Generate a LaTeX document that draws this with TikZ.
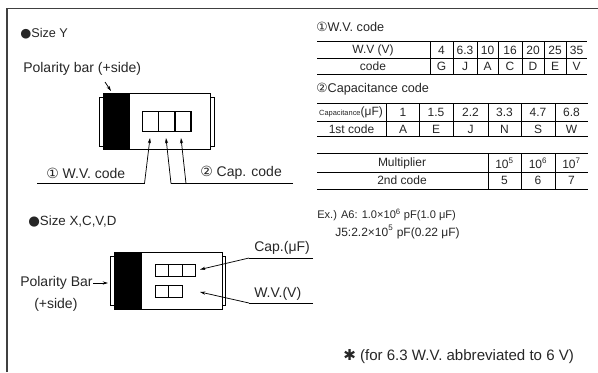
\documentclass[tikz,border=0pt]{standalone}
\usepackage{fontspec}
\setmainfont{Liberation Sans}
\newfontfamily\symfont{DejaVu Sans}
\usetikzlibrary{arrows.meta}
\usetikzlibrary{positioning}
\tikzset{
    lbl/.style={inner sep=0pt, anchor=west, text=black!85, font=\fontsize{10.5}{12}\selectfont},
    head/.style={inner sep=0pt, anchor=west, text=black!85, font=\fontsize{9.5}{11}\selectfont},
    cell/.style={inner sep=0pt, text=black!85, font=\fontsize{9}{11}\selectfont},
    rule/.style={line width=0.65pt},
    grid/.style={line width=0.55pt},
    body/.style={rectangle, draw, line width=0.7pt, inner sep=0pt, fill=white},
    tab/.style={rectangle, draw, line width=0.6pt, inner sep=0pt, minimum width=2.6pt, minimum height=36.8pt},
    digit/.style={rectangle, draw, line width=0.6pt, inner sep=0pt, minimum height=15.5pt},
    leader/.style={line width=0.55pt},
    lead/.style={line width=0.55pt, -{Stealth[length=4pt,width=2.4pt]}}
}
\newcommand{\circone}{{\symfont\char"2460}}
\newcommand{\circtwo}{{\symfont\char"2461}}
\newcommand{\dotmark}{{\symfont\char"25CF}}
\begin{document}
\begin{tikzpicture}[x=0.75pt, y=-0.75pt]
\useasboundingbox (0,0) rectangle (598,372);
% frame
\coordinate (fa) at (7,372);
\coordinate (fb) at (7,8.5);
\coordinate (fc) at (598,8.5);
\draw[line width=0.8pt, black!75] (fa) -- (fb) -- (fc);

% size Y
\node[head] (ytitle) at (20,34) {\dotmark Size Y};
\node[lbl] (ypol) at (23,69) {Polarity bar (+side)};
\node[tab] (ytabl) at (101.25,121.5) {};
\node[tab] (ytabr) at (212.25,121.5) {};
\node[body, minimum width=80.6pt, minimum height=42.4pt] (ybody) at (156.75,121.25) {};
\node[rectangle, fill=black, inner sep=0pt, minimum width=20.3pt, minimum height=42.4pt] (ybar) at (116.5,121.25) {};
\node[digit, minimum width=12pt] (ya) at (150.75,121.5) {};
\node[digit, minimum width=12pt] (yb) at (166.75,121.5) {};
\node[digit, minimum width=12pt, line width=0.9pt] (yc) at (183,121.5) {};
\coordinate (ypa) at (105,82);
\coordinate (ypb) at (111,91);
\draw[lead] (ypa) -- (ypb);
\node[lbl] (ywv) at (46,173) {\circone\ W.V. code};
\node[lbl] (ycap) at (200,173) {\circtwo\ Cap. code};
\coordinate (yl1) at (37,183.5);
\coordinate (yl2) at (144.5,183.5);
\coordinate (yl3) at (150,138);
\coordinate (yr1) at (293,183.5);
\coordinate (yr2) at (186,183.5);
\coordinate (yr3) at (181,138);
\coordinate (yr4) at (171,183.5);
\coordinate (yr5) at (166,138);
\draw[leader] (yl1) -- (yl2);
\draw[lead] (yl2) -- (yl3);
\draw[leader] (yr1) -- (yr4);
\draw[lead] (yr2) -- (yr3);
\draw[lead] (yr4) -- (yr5);

% size X,C,V,D
\node[head, font=\fontsize{10}{12}\selectfont] (xtitle) at (28,222) {\dotmark Size X,C,V,D};
\node[lbl] (xpol) at (20,283) {Polarity Bar};
\node[lbl] (xside) at (34,305) {(+side)};
\node[tab] (xtabl) at (112.25,280.5) {};
\node[tab] (xtabr) at (223.75,280.5) {};
\node[body, minimum width=81pt, minimum height=42.8pt] (xbody) at (168,280.5) {};
\node[rectangle, fill=black, inner sep=0pt, minimum width=21pt, minimum height=42.8pt] (xbar) at (128,280.5) {};
\node[digit, minimum width=10pt, minimum height=9pt] (xa) at (161.75,270) {};
\node[digit, minimum width=10pt, minimum height=9pt] (xb) at (175.25,270) {};
\node[digit, minimum width=10pt, minimum height=9pt] (xc) at (188.75,270) {};
\node[digit, minimum width=10pt, minimum height=9pt] (xd) at (161.75,291.25) {};
\node[digit, minimum width=10pt, minimum height=9pt] (xe) at (175.25,291.25) {};
\coordinate (xpa) at (93,283);
\coordinate (xpb) at (108,283);
\draw[lead] (xpa) -- (xpb);
\node[lbl] (xcap) at (254,248) {Cap.(μF)};
\node[lbl] (xwv) at (254,294) {W.V.(V)};
\coordinate (xc1) at (313,258);
\coordinate (xc2) at (249,258);
\coordinate (xc3) at (200,269.5);
\coordinate (xw1) at (313,303);
\coordinate (xw2) at (249,303);
\coordinate (xw3) at (200,292);
\draw[leader] (xc1) -- (xc2);
\draw[lead] (xc2) -- (xc3);
\draw[leader] (xw1) -- (xw2);
\draw[lead] (xw2) -- (xw3);

% W.V. code table
\node[head] (wvtitle) at (316,27) {\circone W.V. code};
\draw[rule] (317,41) -- (587,41);
\draw[rule] (317,58.5) -- (587,58.5);
\draw[rule] (317,74) -- (587,74);
\draw[grid] (430,41) -- (430,74);
\draw[grid] (453,41) -- (453,74);
\draw[grid] (477,41) -- (477,74);
\draw[grid] (498,41) -- (498,74);
\draw[grid] (522,41) -- (522,74);
\draw[grid] (544,41) -- (544,74);
\draw[grid] (566,41) -- (566,74);
\node[cell] (wv0) at (373,50) {W.V (V)};
\node[cell] (wv1) at (441.5,50) {4};
\node[cell] (wv2) at (465,50) {6.3};
\node[cell] (wv3) at (487.5,50) {10};
\node[cell] (wv4) at (510,50) {16};
\node[cell] (wv5) at (533,50) {20};
\node[cell] (wv6) at (555,50) {25};
\node[cell] (wv7) at (576.5,50) {35};
\node[cell] (cd0) at (373,66) {code};
\node[cell] (cd1) at (441.5,66) {G};
\node[cell] (cd2) at (465,66) {J};
\node[cell] (cd3) at (487.5,66) {A};
\node[cell] (cd4) at (510,66) {C};
\node[cell] (cd5) at (533,66) {D};
\node[cell] (cd6) at (555,66) {E};
\node[cell] (cd7) at (576.5,66) {V};

% capacitance code table
\node[head] (captitle) at (316,89) {\circtwo Capacitance code};
\draw[rule] (317,103) -- (588,103);
\draw[rule] (317,121) -- (588,121);
\draw[rule] (317,136) -- (588,136);
\draw[grid] (386,103) -- (386,136);
\draw[grid] (419.5,103) -- (419.5,136);
\draw[grid] (453,103) -- (453,136);
\draw[grid] (488,103) -- (488,136);
\draw[grid] (521,103) -- (521,136);
\draw[grid] (555,103) -- (555,136);
\node[cell] (cp0) at (351,112) {{\fontsize{5.6}{6}\selectfont Capacitance}(μF)};
\node[cell] (cp1) at (403,112) {1};
\node[cell] (cp2) at (436,112) {1.5};
\node[cell] (cp3) at (470.5,112) {2.2};
\node[cell] (cp4) at (504.5,112) {3.3};
\node[cell] (cp5) at (538,112) {4.7};
\node[cell] (cp6) at (571.5,112) {6.8};
\node[cell] (st0) at (351.5,129) {1st code};
\node[cell] (st1) at (403,129) {A};
\node[cell] (st2) at (436,129) {E};
\node[cell] (st3) at (470.5,129) {J};
\node[cell] (st4) at (504.5,129) {N};
\node[cell] (st5) at (538,129) {S};
\node[cell] (st6) at (571.5,129) {W};

% multiplier table
\draw[rule] (317,153.5) -- (588,153.5);
\draw[rule] (317,172) -- (588,172);
\draw[rule] (317,189) -- (588,189);
\draw[grid] (488,153.5) -- (488,189);
\draw[grid] (521,153.5) -- (521,189);
\draw[grid] (555,153.5) -- (555,189);
\node[cell] (mu0) at (402,163) {Multiplier};
\node[cell] (mu1) at (504.5,163) {10\textsuperscript{5}};
\node[cell] (mu2) at (538,163) {10\textsuperscript{6}};
\node[cell] (mu3) at (571.5,163) {10\textsuperscript{7}};
\node[cell] (nd0) at (402,180) {2nd code};
\node[cell] (nd1) at (504.5,180) {5};
\node[cell] (nd2) at (538,180) {6};
\node[cell] (nd3) at (571.5,180) {7};

% example
\node[cell, anchor=west, font=\fontsize{8.3}{10}\selectfont] (exa) at (317,215) {Ex.) A6: 1.0×10\textsuperscript{6} pF(1.0 μF)};
\node[cell, anchor=west, font=\fontsize{9}{11}\selectfont] (exb) at (335,232) {J5:2.2×10\textsuperscript{5} pF(0.22 μF)};
\node[lbl, font=\fontsize{11.3}{13}\selectfont] (note) at (343,357) {{\symfont\char"2731} (for 6.3 W.V. abbreviated to 6 V)};
\end{tikzpicture}
\end{document}
